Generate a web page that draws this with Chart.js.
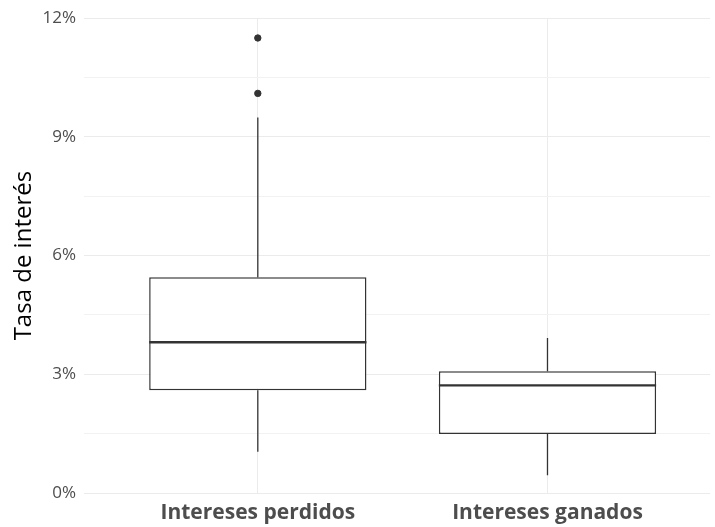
<!DOCTYPE html>
<html>
<head>
<meta charset="utf-8">
<script src="https://cdn.jsdelivr.net/npm/chart.js@4"></script>
<style>
	html, body { margin: 0; padding: 0; background: #fff; overflow: hidden; }
	canvas { display: block; }
</style>
</head>
<body>
<canvas id="chart" width="715" height="527"></canvas>
<script>
// 箱ひげ図のデータ（単位: %）
const categories = ["Intereses perdidos", "Intereses ganados"];
const whiskerLow = [1.04, 0.45];
const q1 = [2.6, 1.49];
const median = [3.81, 2.72];
const q3 = [5.45, 3.08];
const whiskerHigh = [9.49, 3.92];
const outliers = [[10.1, 11.5], []];
const yTicks = [0, 3, 6, 9, 12];

const boxWidth = 0.75;
const ink = "#333333";

// ひげ（箱の上下）
const whiskerSets = categories.flatMap((c, i) => [
	[{ x: i + 1, y: whiskerLow[i] }, { x: i + 1, y: q1[i] }],
	[{ x: i + 1, y: q3[i] }, { x: i + 1, y: whiskerHigh[i] }],
]).map((pts) => ({
	type: "line",
	data: pts,
	borderColor: ink,
	borderWidth: 1.3,
	pointRadius: 0,
	fill: false,
	order: 2,
}));

// 中央値の線
const medianSets = categories.map((c, i) => ({
	type: "line",
	data: [
		{ x: i + 1 - boxWidth / 2, y: median[i] },
		{ x: i + 1 + boxWidth / 2, y: median[i] },
	],
	borderColor: ink,
	borderWidth: 2.4,
	pointRadius: 0,
	fill: false,
	order: 0,
}));

new Chart(document.getElementById("chart"), {
	type: "bar",
	data: {
		datasets: [
			...medianSets,
			{
				type: "scatter",
				data: outliers.flatMap((vals, i) => vals.map((v) => ({ x: i + 1, y: v }))),
				backgroundColor: ink,
				borderColor: ink,
				pointRadius: 3.2,
				order: 1,
			},
			...whiskerSets,
			{
				type: "bar",
				data: categories.map((c, i) => ({ x: i + 1, y: [q1[i], q3[i]] })),
				backgroundColor: "#ffffff",
				borderColor: ink,
				borderWidth: 1.5,
				borderSkipped: false,
				barPercentage: boxWidth,
				categoryPercentage: 1,
				order: 3,
			},
		],
	},
	options: {
		responsive: false,
		animation: false,
		layout: { padding: { top: 17, left: 0, right: 0, bottom: 0 } },
		plugins: {
			legend: { display: false },
			tooltip: { enabled: false },
		},
		scales: {
			x: {
				type: "linear",
				min: 0.4,
				max: 2.561,
				offset: false,
				afterBuildTicks: (s) => {
					s.ticks = categories.map((c, i) => ({ value: i + 1 }));
				},
				afterFit: (s) => {
					s.height = 34;
				},
				ticks: {
					autoSkip: false,
					maxRotation: 0,
					padding: 7,
					color: "#4d4d4d",
					font: { family: "Open Sans", size: 21, weight: "bold" },
					callback: (v) => categories[v - 1] ?? "",
				},
				grid: { color: "#ebebeb", lineWidth: 1, drawTicks: false, offset: false },
				border: { display: false },
			},
			y: {
				min: 0,
				max: 12,
				afterFit: (s) => {
					s.width = 84;
				},
				ticks: {
					stepSize: 1.5,
					padding: 8,
					color: "#4d4d4d",
					font: { family: "Open Sans", size: 17 },
					callback: (v) => (yTicks.includes(v) ? v + "%" : ""),
				},
				grid: {
					drawTicks: false,
					color: (ctx) => (yTicks.includes(ctx.tick.value) ? "#ebebeb" : "#f2f2f2"),
					lineWidth: 1,
				},
				border: { display: false },
				title: {
					display: true,
					text: "Tasa de interés",
					color: "#000000",
					font: { family: "Open Sans", size: 24 },
					padding: { top: 10, bottom: 0 },
				},
			},
		},
	},
});
</script>
</body>
</html>
